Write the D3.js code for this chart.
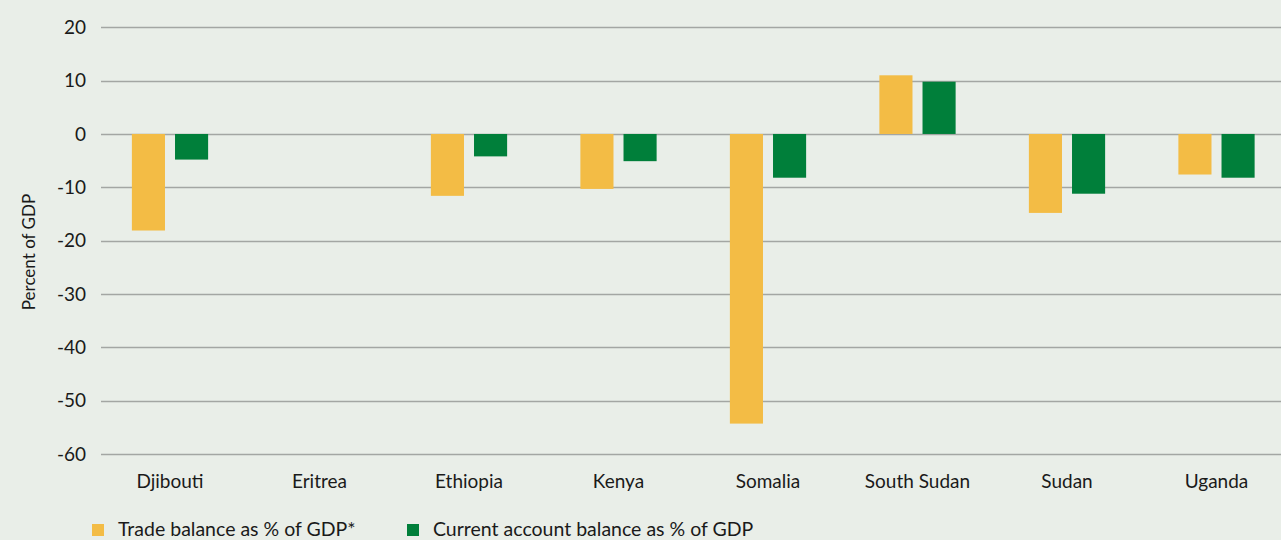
<!DOCTYPE html>
<html>
<head>
<meta charset="utf-8">
<script src="https://cdn.jsdelivr.net/npm/d3@7"></script>
<style>
  html, body { margin: 0; padding: 0; background: #e9eee8; }
  svg { display: block; font-family: Lato, "Open Sans", sans-serif; }
</style>
</head>
<body>
<div id="chart"></div>
<script>
const countries = ['Djibouti', 'Eritrea', 'Ethiopia', 'Kenya', 'Somalia', 'South Sudan', 'Sudan', 'Uganda'];
const tradeBalance = [-18.1, null, -11.6, -10.3, -54.3, 11.0, -14.8, -7.6];
const currentAccount = [-4.8, null, -4.2, -5.1, -8.2, 9.8, -11.2, -8.2];
const seriesNames = ['Trade balance as % of GDP*', 'Current account balance as % of GDP'];
const seriesColors = ['#f3bc45', '#007f3a'];
const yTicks = [20, 10, 0, -10, -20, -30, -40, -50, -60];

const WIDTH = 1281;
const HEIGHT = 540;

const svg = d3.select('#chart').append('svg')
    .attr('width', WIDTH)
    .attr('height', HEIGHT);

svg.append('rect')
    .attr('width', WIDTH)
    .attr('height', HEIGHT)
    .attr('fill', '#e9eee8');

const y = d3.scaleLinear().domain([-60, 20]).range([454, 27.3]);

// outer band per country, bars pair is ~76px wide inside a ~149.5px step
const x0 = d3.scaleBand()
    .domain(countries)
    .range([95.25, 1291.25])
    .paddingInner(0.49)
    .paddingOuter(0.245);

const x1 = d3.scaleBand()
    .domain(d3.range(seriesNames.length))
    .range([0, x0.bandwidth()])
    .paddingInner(0.2326);

// gridlines
svg.append('g')
    .selectAll('line')
    .data(yTicks)
    .join('line')
    .attr('x1', 101)
    .attr('x2', WIDTH)
    .attr('y1', d => Math.round(y(d)) + 0.5)
    .attr('y2', d => Math.round(y(d)) + 0.5)
    .attr('stroke', '#a3a6a3')
    .attr('stroke-width', 1.3);

// y tick labels
svg.append('g')
    .selectAll('text')
    .data(yTicks)
    .join('text')
    .attr('x', 86)
    .attr('y', d => y(d))
    .attr('dy', '0.35em')
    .attr('text-anchor', 'end')
    .attr('font-size', 19)
    .attr('fill', '#1a1a1a')
    .text(d => d);

// y axis title
svg.append('text')
    .attr('transform', 'translate(35,252) rotate(-90)')
    .attr('text-anchor', 'middle')
    .attr('font-size', 17)
    .attr('fill', '#1a1a1a')
    .text('Percent of GDP');

// bars
const seriesValues = [tradeBalance, currentAccount];
const barData = [];
countries.forEach((c, i) => {
    seriesValues.forEach((vals, s) => {
        if (vals[i] != null) barData.push({ country: c, series: s, value: vals[i] });
    });
});

svg.append('g')
    .selectAll('rect')
    .data(barData)
    .join('rect')
    .attr('x', d => x0(d.country) + x1(d.series))
    .attr('width', x1.bandwidth())
    .attr('y', d => y(Math.max(0, d.value)))
    .attr('height', d => Math.abs(y(d.value) - y(0)))
    .attr('fill', d => seriesColors[d.series]);

// category labels
svg.append('g')
    .selectAll('text')
    .data(countries)
    .join('text')
    .attr('x', d => x0(d) + x0.bandwidth() / 2)
    .attr('y', 488)
    .attr('text-anchor', 'middle')
    .attr('font-size', 19)
    .attr('fill', '#1a1a1a')
    .text(d => d);

// legend
const legendX = [92, 407];
const legend = svg.append('g')
    .selectAll('g')
    .data(seriesNames)
    .join('g')
    .attr('transform', (d, i) => `translate(${legendX[i]},524)`);

legend.append('rect')
    .attr('width', 12)
    .attr('height', 12)
    .attr('fill', (d, i) => seriesColors[i]);

legend.append('text')
    .attr('x', 26)
    .attr('y', 12)
    .attr('font-size', 19.5)
    .attr('fill', '#1a1a1a')
    .text(d => d);
</script>
</body>
</html>
